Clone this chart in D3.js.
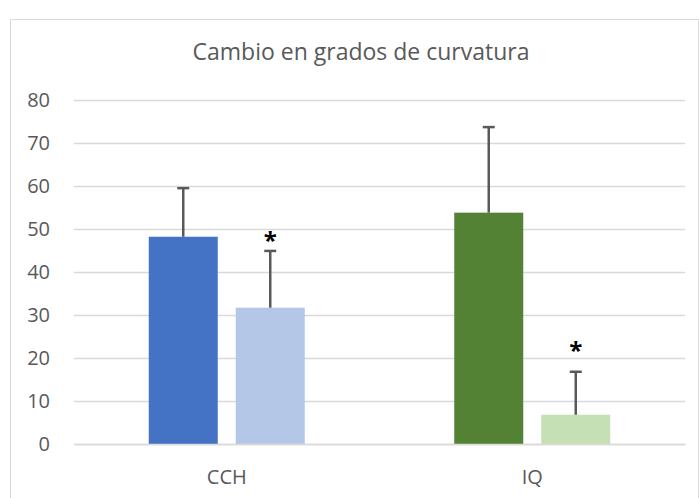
<!DOCTYPE html>
<html><head><meta charset="utf-8">
<script src="https://cdn.jsdelivr.net/npm/d3@7"></script>
<style>body{margin:0;background:#fff}svg{display:block}text{font-family:"Open Sans",sans-serif}</style>
</head><body><svg id="c" width="699" height="498"></svg>
<script>
const title = "Cambio en grados de curvatura";
const categories = ["CCH", "IQ"];
const series = ["pre", "post"];
const means = [[48.2, 31.7], [53.8, 6.8]];
const errors = [[11.3, 13.2], [19.9, 10.0]];
const starAt = [[null, 47.9], [null, 22.3]];
const yTicks = [0, 10, 20, 30, 40, 50, 60, 70, 80];
const colors = [["#4472C4", "#B4C7E7"], ["#548235", "#C5E0B4"]];

const svg = d3.select("#c");
svg.append("rect").attr("x", 10.5).attr("y", 19.5).attr("width", 688).attr("height", 490)
  .attr("fill", "#fff").attr("stroke", "#d9d9d9").attr("stroke-width", 1);

const x0 = d3.scaleBand().domain(categories).range([74, 685]).paddingInner(0).paddingOuter(0);
const x1 = d3.scaleBand().domain(series).range([-78, 78]).paddingInner(0.207);
const y = d3.scaleLinear().domain([0, 80]).range([444, 100]);

svg.append("text").attr("x", 361).attr("y", 60).attr("text-anchor", "middle")
  .attr("font-size", 23).attr("fill", "#595959").text(title);

const ya = svg.append("g").attr("transform", "translate(74,0)")
  .call(d3.axisLeft(y).tickValues(yTicks).tickSize(-611).tickPadding(24));
ya.select(".domain").remove();
ya.selectAll(".tick line").attr("stroke", "#d9d9d9").attr("stroke-width", 1.3);
ya.selectAll(".tick text").attr("font-size", 20).attr("fill", "#595959").attr("font-family", "Open Sans");

const g = svg.append("g");
categories.forEach((c, ci) => {
  const cx = x0(c) + x0.bandwidth() / 2;
  series.forEach((s, si) => {
    const bx = cx + x1(s);
    const w = x1.bandwidth();
    const v = means[ci][si];
    g.append("rect").attr("x", bx).attr("y", y(v)).attr("width", w).attr("height", y(0) - y(v))
      .attr("fill", colors[ci][si]);
    const mx = bx + w / 2;
    const top = y(v + errors[ci][si]);
    g.append("line").attr("x1", mx).attr("x2", mx).attr("y1", y(v)).attr("y2", top)
      .attr("stroke", "#595959").attr("stroke-width", 2.5);
    g.append("line").attr("x1", mx - 6).attr("x2", mx + 6).attr("y1", top).attr("y2", top)
      .attr("stroke", "#595959").attr("stroke-width", 2.5);
    if (starAt[ci][si] !== null) {
      g.append("text").attr("x", mx).attr("y", y(starAt[ci][si]) + 11).attr("text-anchor", "middle")
        .attr("font-size", 24).attr("font-weight", "bold").attr("fill", "#000")
        .attr("font-family", "DejaVu Sans").text("*");
    }
  });
});

const xa = svg.append("g").attr("transform", "translate(0,444)")
  .call(d3.axisBottom(x0).tickSize(0).tickPadding(26));
xa.select(".domain").attr("stroke", "#d9d9d9").attr("stroke-width", 1.3);
xa.selectAll(".tick text").attr("font-size", 20).attr("fill", "#595959").attr("font-family", "Open Sans");
</script></body></html>
